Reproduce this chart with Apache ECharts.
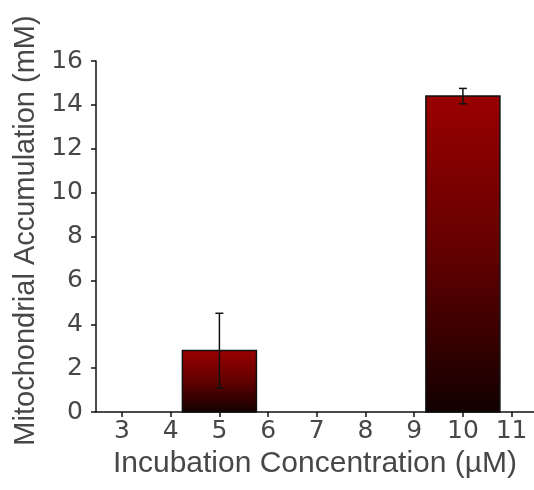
<!DOCTYPE html>
<html>
<head>
<meta charset="utf-8">
<script src="https://cdn.jsdelivr.net/npm/echarts@6/dist/echarts.min.js"></script>
<style>html,body{margin:0;padding:0;background:#fff}#c{width:534px;height:490px}</style>
</head>
<body>
<div id="c"></div>
<script>
var concentrations = [5, 10];
var accumulation = [2.8, 14.4];
var errors = [1.7, 0.35];
var xTicks = [3, 4, 5, 6, 7, 8, 9, 10, 11];
var yTicks = [0, 2, 4, 6, 8, 10, 12, 14, 16];

var barData = concentrations.map(function (c, i) { return [c, accumulation[i]]; });
var errData = concentrations.map(function (c, i) { return [c, accumulation[i], errors[i]]; });
var BAR_HALF = 0.76;
var TITLE_FONT = 'Liberation Sans, Arial, sans-serif';
var TICK_FONT = 'DejaVu Sans, sans-serif';
var TXT = '#474747';

var chart = echarts.init(document.getElementById('c'), null, {renderer: 'canvas'});
chart.setOption({
  backgroundColor: '#fff',
  animation: false,
  grid: {left: 96, right: 0, top: 61, bottom: 78, outerBoundsMode: 'none'},
  xAxis: {
    type: 'value', min: 2.466, max: 11.46,
    name: 'Incubation Concentration (\u00b5M)',
    nameLocation: 'middle', nameGap: 37,
    nameTextStyle: {fontFamily: TITLE_FONT, fontSize: 30, color: TXT},
    axisLine: {show: true, lineStyle: {color: '#111', width: 1.5}},
    axisTick: {show: true, length: 5, customValues: xTicks, lineStyle: {color: '#111', width: 1.5}},
    axisLabel: {customValues: xTicks, margin: 7, fontFamily: TICK_FONT, fontSize: 25, color: TXT},
    splitLine: {show: false}
  },
  yAxis: {
    type: 'value', min: 0, max: 16, interval: 2,
    name: 'Mitochondrial Accumulation (mM)',
    nameLocation: 'middle', nameGap: 42,
    nameTextStyle: {fontFamily: TITLE_FONT, fontSize: 29, color: TXT, padding: [0, 0, 0, 12]},
    axisLine: {show: true, lineStyle: {color: '#111', width: 1.5}},
    axisTick: {show: true, length: 5, customValues: yTicks, lineStyle: {color: '#111', width: 1.5}},
    axisLabel: {customValues: yTicks, margin: 13, fontFamily: TICK_FONT, fontSize: 25, color: TXT},
    splitLine: {show: false}
  },
  series: [
    {
      type: 'custom',
      data: barData,
      renderItem: function (params, api) {
        var x = api.value(0), y = api.value(1);
        var p0 = api.coord([x - BAR_HALF, y]);
        var p1 = api.coord([x + BAR_HALF, 0]);
        return {
          type: 'rect',
          shape: {x: p0[0], y: p0[1], width: p1[0] - p0[0], height: p1[1] - p0[1]},
          style: {
            fill: new echarts.graphic.LinearGradient(0, 0, 0, 1, [
              {offset: 0, color: '#9a0000'},
              {offset: 0.5, color: '#620000'},
              {offset: 1, color: '#120000'}
            ]),
            stroke: '#111', lineWidth: 1.5
          }
        };
      }
    },
    {
      type: 'custom',
      data: errData,
      z: 5,
      renderItem: function (params, api) {
        var x = api.value(0), y = api.value(1), e = api.value(2);
        var top = api.coord([x, y + e]);
        var bot = api.coord([x, y - e]);
        var cap = 4;
        var st = {stroke: '#111', lineWidth: 1.5};
        return {
          type: 'group',
          children: [
            {type: 'line', shape: {x1: top[0], y1: top[1], x2: bot[0], y2: bot[1]}, style: st},
            {type: 'line', shape: {x1: top[0] - cap, y1: top[1], x2: top[0] + cap, y2: top[1]}, style: st},
            {type: 'line', shape: {x1: bot[0] - cap, y1: bot[1], x2: bot[0] + cap, y2: bot[1]}, style: st}
          ]
        };
      }
    }
  ]
});
</script>
</body>
</html>
